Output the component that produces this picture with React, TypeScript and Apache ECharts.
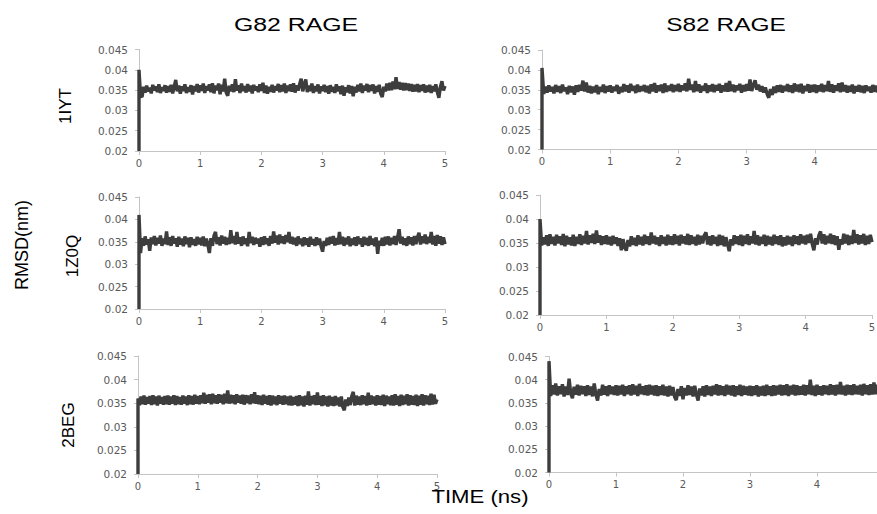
import React, { useEffect, useRef } from "react";
import * as echarts from "echarts";

// Sampling step of the trajectories (ns) and the starting RMSD at t = 0
const SAMPLE_STEP_NS = 0.025;
const START_RMSD = 0.02;

const columnTitles = ["G82 RAGE", "S82 RAGE"];
const rowLabels = ["1IYT", "1Z0Q", "2BEG"];
const yAxisTitle = "RMSD(nm)";
const xAxisTitle = "TIME (ns)";

const xTicks = { min: 0, max: 5, interval: 1 };
const yTicks = { min: 0.02, max: 0.045, interval: 0.005 };

// G82 RAGE / 1IYT (one row = 0.5 ns)
const g82_1IYT = [
  0.0400, 0.0336, 0.0333, 0.0358, 0.0344, 0.0361, 0.0347, 0.0356, 0.0342, 0.0363, 0.0349, 0.0359, 0.0345, 0.0364, 0.0343, 0.0357, 0.0348, 0.0362, 0.0344, 0.0360,
  0.0346, 0.0363, 0.0342, 0.0358, 0.0375, 0.0347, 0.0361, 0.0341, 0.0359, 0.0348, 0.0364, 0.0343, 0.0357, 0.0346, 0.0362, 0.0339, 0.0360, 0.0347, 0.0365, 0.0344,
  0.0362, 0.0348, 0.0366, 0.0343, 0.0360, 0.0349, 0.0364, 0.0345, 0.0367, 0.0342, 0.0361, 0.0350, 0.0366, 0.0340, 0.0363, 0.0347, 0.0378, 0.0344, 0.0336, 0.0361,
  0.0347, 0.0364, 0.0345, 0.0377, 0.0349, 0.0362, 0.0343, 0.0366, 0.0348, 0.0360, 0.0344, 0.0365, 0.0347, 0.0361, 0.0342, 0.0363, 0.0349, 0.0359, 0.0345, 0.0364,
  0.0348, 0.0368, 0.0343, 0.0361, 0.0341, 0.0358, 0.0346, 0.0363, 0.0344, 0.0360, 0.0349, 0.0365, 0.0345, 0.0362, 0.0347, 0.0366, 0.0343, 0.0361, 0.0348, 0.0364,
  0.0346, 0.0367, 0.0344, 0.0362, 0.0349, 0.0365, 0.0378, 0.0347, 0.0363, 0.0376, 0.0345, 0.0361, 0.0348, 0.0366, 0.0343, 0.0360, 0.0347, 0.0364, 0.0342, 0.0359,
  0.0348, 0.0363, 0.0345, 0.0360, 0.0341, 0.0362, 0.0346, 0.0358, 0.0343, 0.0364, 0.0347, 0.0359, 0.0340, 0.0361, 0.0336, 0.0357, 0.0345, 0.0362, 0.0342, 0.0360,
  0.0335, 0.0358, 0.0344, 0.0363, 0.0347, 0.0366, 0.0343, 0.0361, 0.0349, 0.0365, 0.0345, 0.0362, 0.0348, 0.0364, 0.0342, 0.0360, 0.0346, 0.0363, 0.0341, 0.0333,
  0.0358, 0.0347, 0.0366, 0.0349, 0.0368, 0.0350, 0.0371, 0.0352, 0.0382, 0.0353, 0.0370, 0.0351, 0.0368, 0.0349, 0.0367, 0.0350, 0.0366, 0.0348, 0.0365, 0.0346,
  0.0363, 0.0347, 0.0365, 0.0345, 0.0362, 0.0348, 0.0364, 0.0344, 0.0361, 0.0346, 0.0363, 0.0343, 0.0360, 0.0347, 0.0364, 0.0345, 0.0331, 0.0358, 0.0372, 0.0349,
  0.0360,
];

// S82 RAGE / 1IYT
const s82_1IYT = [
  0.0405, 0.0340, 0.0358, 0.0343, 0.0361, 0.0346, 0.0357, 0.0341, 0.0362, 0.0345, 0.0359, 0.0342, 0.0363, 0.0347, 0.0356, 0.0339, 0.0360, 0.0344, 0.0358, 0.0338,
  0.0361, 0.0345, 0.0362, 0.0348, 0.0373, 0.0346, 0.0368, 0.0343, 0.0360, 0.0341, 0.0358, 0.0344, 0.0362, 0.0339, 0.0357, 0.0345, 0.0363, 0.0342, 0.0359, 0.0346,
  0.0361, 0.0343, 0.0358, 0.0347, 0.0362, 0.0340, 0.0357, 0.0344, 0.0364, 0.0346, 0.0361, 0.0343, 0.0365, 0.0348, 0.0360, 0.0342, 0.0363, 0.0345, 0.0359, 0.0347,
  0.0362, 0.0344, 0.0360, 0.0341, 0.0364, 0.0346, 0.0367, 0.0343, 0.0361, 0.0347, 0.0363, 0.0342, 0.0366, 0.0345, 0.0360, 0.0348, 0.0364, 0.0344, 0.0362, 0.0347,
  0.0365, 0.0345, 0.0361, 0.0349, 0.0366, 0.0346, 0.0378, 0.0350, 0.0363, 0.0344, 0.0372, 0.0347, 0.0364, 0.0343, 0.0360, 0.0348, 0.0366, 0.0342, 0.0361, 0.0346,
  0.0364, 0.0344, 0.0362, 0.0348, 0.0365, 0.0343, 0.0361, 0.0346, 0.0367, 0.0345, 0.0372, 0.0347, 0.0363, 0.0344, 0.0361, 0.0349, 0.0365, 0.0343, 0.0362, 0.0346,
  0.0364, 0.0348, 0.0376, 0.0347, 0.0362, 0.0374, 0.0350, 0.0363, 0.0346, 0.0359, 0.0343, 0.0356, 0.0340, 0.0330, 0.0352, 0.0337, 0.0358, 0.0342, 0.0361, 0.0345,
  0.0362, 0.0343, 0.0360, 0.0347, 0.0364, 0.0345, 0.0361, 0.0342, 0.0366, 0.0346, 0.0363, 0.0344, 0.0365, 0.0341, 0.0360, 0.0347, 0.0364, 0.0343, 0.0362, 0.0345,
  0.0363, 0.0342, 0.0361, 0.0346, 0.0365, 0.0344, 0.0362, 0.0347, 0.0372, 0.0345, 0.0364, 0.0343, 0.0361, 0.0348, 0.0366, 0.0344, 0.0368, 0.0346, 0.0362, 0.0343,
  0.0360, 0.0345, 0.0363, 0.0341, 0.0359, 0.0346, 0.0362, 0.0344, 0.0360, 0.0342, 0.0361, 0.0347, 0.0358, 0.0343, 0.0362, 0.0345, 0.0360, 0.0344, 0.0361, 0.0346,
  0.0358,
];

// G82 RAGE / 1Z0Q
const g82_1Z0Q = [
  0.0410, 0.0325, 0.0358, 0.0341, 0.0362, 0.0344, 0.0356, 0.0330, 0.0360, 0.0345, 0.0363, 0.0342, 0.0359, 0.0346, 0.0364, 0.0341, 0.0357, 0.0345, 0.0373, 0.0343,
  0.0360, 0.0341, 0.0363, 0.0346, 0.0358, 0.0339, 0.0361, 0.0344, 0.0357, 0.0340, 0.0362, 0.0345, 0.0359, 0.0338, 0.0360, 0.0343, 0.0356, 0.0341, 0.0361, 0.0344,
  0.0359, 0.0342, 0.0362, 0.0340, 0.0357, 0.0344, 0.0325, 0.0358, 0.0341, 0.0363, 0.0372, 0.0345, 0.0360, 0.0342, 0.0364, 0.0346, 0.0361, 0.0343, 0.0359, 0.0345,
  0.0376, 0.0347, 0.0363, 0.0344, 0.0372, 0.0346, 0.0360, 0.0341, 0.0362, 0.0345, 0.0358, 0.0340, 0.0372, 0.0347, 0.0361, 0.0343, 0.0359, 0.0346, 0.0357, 0.0339,
  0.0360, 0.0343, 0.0362, 0.0345, 0.0358, 0.0341, 0.0363, 0.0346, 0.0373, 0.0348, 0.0364, 0.0344, 0.0366, 0.0347, 0.0362, 0.0345, 0.0365, 0.0349, 0.0372, 0.0346,
  0.0361, 0.0344, 0.0359, 0.0341, 0.0362, 0.0345, 0.0357, 0.0340, 0.0360, 0.0343, 0.0358, 0.0339, 0.0361, 0.0344, 0.0356, 0.0341, 0.0360, 0.0343, 0.0357, 0.0340,
  0.0328, 0.0352, 0.0341, 0.0359, 0.0343, 0.0361, 0.0346, 0.0363, 0.0342, 0.0358, 0.0344, 0.0372, 0.0345, 0.0361, 0.0341, 0.0359, 0.0344, 0.0362, 0.0340, 0.0357,
  0.0343, 0.0360, 0.0341, 0.0362, 0.0345, 0.0358, 0.0339, 0.0361, 0.0343, 0.0359, 0.0341, 0.0363, 0.0344, 0.0357, 0.0340, 0.0360, 0.0323, 0.0352, 0.0342, 0.0359,
  0.0341, 0.0361, 0.0344, 0.0362, 0.0342, 0.0359, 0.0345, 0.0363, 0.0343, 0.0360, 0.0378, 0.0346, 0.0361, 0.0343, 0.0358, 0.0341, 0.0362, 0.0345, 0.0360, 0.0342,
  0.0363, 0.0345, 0.0360, 0.0370, 0.0344, 0.0362, 0.0347, 0.0366, 0.0345, 0.0361, 0.0348, 0.0372, 0.0344, 0.0363, 0.0341, 0.0365, 0.0346, 0.0362, 0.0343, 0.0360,
  0.0345,
];

// S82 RAGE / 1Z0Q
const s82_1Z0Q = [
  0.0400, 0.0345, 0.0362, 0.0347, 0.0366, 0.0344, 0.0368, 0.0348, 0.0363, 0.0345, 0.0367, 0.0349, 0.0364, 0.0346, 0.0369, 0.0343, 0.0365, 0.0347, 0.0362, 0.0345,
  0.0367, 0.0344, 0.0363, 0.0348, 0.0368, 0.0346, 0.0365, 0.0349, 0.0375, 0.0347, 0.0366, 0.0350, 0.0369, 0.0348, 0.0376, 0.0351, 0.0366, 0.0346, 0.0364, 0.0348,
  0.0366, 0.0347, 0.0363, 0.0345, 0.0365, 0.0348, 0.0362, 0.0344, 0.0360, 0.0335, 0.0358, 0.0342, 0.0334, 0.0356, 0.0343, 0.0364, 0.0346, 0.0361, 0.0344, 0.0366,
  0.0347, 0.0363, 0.0345, 0.0367, 0.0348, 0.0364, 0.0346, 0.0372, 0.0349, 0.0365, 0.0347, 0.0362, 0.0344, 0.0366, 0.0348, 0.0363, 0.0345, 0.0367, 0.0347, 0.0364,
  0.0346, 0.0368, 0.0348, 0.0365, 0.0345, 0.0367, 0.0349, 0.0364, 0.0347, 0.0369, 0.0346, 0.0366, 0.0348, 0.0363, 0.0345, 0.0367, 0.0347, 0.0365, 0.0349, 0.0366,
  0.0372, 0.0347, 0.0364, 0.0345, 0.0366, 0.0348, 0.0363, 0.0344, 0.0367, 0.0346, 0.0365, 0.0343, 0.0362, 0.0347, 0.0333, 0.0358, 0.0345, 0.0366, 0.0348, 0.0364,
  0.0346, 0.0367, 0.0344, 0.0365, 0.0348, 0.0368, 0.0346, 0.0364, 0.0349, 0.0375, 0.0347, 0.0366, 0.0345, 0.0363, 0.0348, 0.0367, 0.0344, 0.0365, 0.0347, 0.0363,
  0.0345, 0.0367, 0.0348, 0.0364, 0.0346, 0.0366, 0.0343, 0.0362, 0.0345, 0.0365, 0.0347, 0.0363, 0.0344, 0.0366, 0.0348, 0.0364, 0.0346, 0.0368, 0.0349, 0.0365,
  0.0347, 0.0367, 0.0350, 0.0369, 0.0348, 0.0335, 0.0360, 0.0347, 0.0366, 0.0374, 0.0349, 0.0368, 0.0347, 0.0365, 0.0350, 0.0369, 0.0348, 0.0366, 0.0346, 0.0364,
  0.0336, 0.0358, 0.0347, 0.0369, 0.0349, 0.0367, 0.0346, 0.0365, 0.0348, 0.0377, 0.0350, 0.0368, 0.0347, 0.0366, 0.0349, 0.0369, 0.0346, 0.0365, 0.0348, 0.0367,
  0.0352,
];

// G82 RAGE / 2BEG
const g82_2BEG = [
  0.0360, 0.0346, 0.0364, 0.0348, 0.0366, 0.0347, 0.0363, 0.0349, 0.0365, 0.0346, 0.0367, 0.0348, 0.0364, 0.0345, 0.0366, 0.0349, 0.0363, 0.0347, 0.0365, 0.0348,
  0.0366, 0.0347, 0.0364, 0.0349, 0.0367, 0.0346, 0.0365, 0.0348, 0.0363, 0.0347, 0.0366, 0.0349, 0.0364, 0.0346, 0.0367, 0.0348, 0.0365, 0.0347, 0.0368, 0.0349,
  0.0365, 0.0348, 0.0367, 0.0350, 0.0372, 0.0349, 0.0368, 0.0351, 0.0369, 0.0348, 0.0370, 0.0350, 0.0367, 0.0349, 0.0369, 0.0351, 0.0368, 0.0348, 0.0370, 0.0350,
  0.0377, 0.0349, 0.0368, 0.0350, 0.0367, 0.0348, 0.0369, 0.0351, 0.0366, 0.0349, 0.0368, 0.0347, 0.0367, 0.0350, 0.0366, 0.0348, 0.0369, 0.0350, 0.0373, 0.0349,
  0.0367, 0.0348, 0.0366, 0.0346, 0.0368, 0.0349, 0.0365, 0.0347, 0.0367, 0.0345, 0.0366, 0.0348, 0.0364, 0.0346, 0.0367, 0.0349, 0.0365, 0.0347, 0.0366, 0.0348,
  0.0364, 0.0346, 0.0366, 0.0345, 0.0363, 0.0347, 0.0365, 0.0344, 0.0367, 0.0346, 0.0364, 0.0343, 0.0366, 0.0347, 0.0375, 0.0345, 0.0365, 0.0348, 0.0367, 0.0346,
  0.0373, 0.0347, 0.0365, 0.0344, 0.0367, 0.0346, 0.0364, 0.0343, 0.0366, 0.0345, 0.0363, 0.0344, 0.0365, 0.0346, 0.0362, 0.0343, 0.0364, 0.0342, 0.0335, 0.0358,
  0.0344, 0.0362, 0.0346, 0.0365, 0.0374, 0.0345, 0.0366, 0.0347, 0.0364, 0.0346, 0.0367, 0.0348, 0.0365, 0.0345, 0.0372, 0.0347, 0.0366, 0.0348, 0.0364, 0.0345,
  0.0367, 0.0347, 0.0365, 0.0346, 0.0368, 0.0344, 0.0366, 0.0348, 0.0364, 0.0346, 0.0367, 0.0345, 0.0369, 0.0347, 0.0365, 0.0344, 0.0368, 0.0346, 0.0366, 0.0348,
  0.0369, 0.0345, 0.0367, 0.0347, 0.0365, 0.0346, 0.0368, 0.0344, 0.0366, 0.0347, 0.0369, 0.0345, 0.0367, 0.0348, 0.0366, 0.0346, 0.0370, 0.0347, 0.0368, 0.0349,
  0.0358,
];

// S82 RAGE / 2BEG
const s82_2BEG = [
  0.0440, 0.0365, 0.0388, 0.0368, 0.0392, 0.0366, 0.0386, 0.0369, 0.0390, 0.0364, 0.0385, 0.0367, 0.0402, 0.0370, 0.0360, 0.0385, 0.0368, 0.0389, 0.0366, 0.0387,
  0.0369, 0.0386, 0.0365, 0.0388, 0.0367, 0.0385, 0.0364, 0.0392, 0.0368, 0.0355, 0.0380, 0.0366, 0.0389, 0.0368, 0.0386, 0.0365, 0.0388, 0.0369, 0.0385, 0.0367,
  0.0388, 0.0366, 0.0387, 0.0368, 0.0389, 0.0365, 0.0386, 0.0369, 0.0388, 0.0366, 0.0390, 0.0368, 0.0387, 0.0365, 0.0391, 0.0369, 0.0386, 0.0367, 0.0388, 0.0366,
  0.0389, 0.0368, 0.0387, 0.0366, 0.0388, 0.0365, 0.0386, 0.0367, 0.0389, 0.0366, 0.0385, 0.0364, 0.0387, 0.0366, 0.0384, 0.0363, 0.0356, 0.0380, 0.0365, 0.0386,
  0.0358, 0.0382, 0.0366, 0.0388, 0.0367, 0.0385, 0.0364, 0.0387, 0.0368, 0.0355, 0.0381, 0.0366, 0.0386, 0.0364, 0.0388, 0.0367, 0.0385, 0.0365, 0.0387, 0.0368,
  0.0390, 0.0366, 0.0388, 0.0367, 0.0386, 0.0365, 0.0389, 0.0368, 0.0387, 0.0366, 0.0388, 0.0364, 0.0386, 0.0367, 0.0389, 0.0365, 0.0387, 0.0368, 0.0385, 0.0366,
  0.0387, 0.0365, 0.0386, 0.0367, 0.0388, 0.0364, 0.0385, 0.0366, 0.0387, 0.0365, 0.0389, 0.0367, 0.0386, 0.0365, 0.0388, 0.0366, 0.0387, 0.0368, 0.0389, 0.0366,
  0.0388, 0.0367, 0.0390, 0.0365, 0.0387, 0.0368, 0.0389, 0.0366, 0.0388, 0.0367, 0.0386, 0.0368, 0.0389, 0.0366, 0.0388, 0.0369, 0.0400, 0.0367, 0.0387, 0.0365,
  0.0389, 0.0368, 0.0386, 0.0366, 0.0388, 0.0369, 0.0387, 0.0367, 0.0390, 0.0368, 0.0388, 0.0366, 0.0389, 0.0369, 0.0395, 0.0368, 0.0387, 0.0366, 0.0389, 0.0368,
  0.0388, 0.0367, 0.0390, 0.0369, 0.0387, 0.0368, 0.0389, 0.0366, 0.0391, 0.0369, 0.0388, 0.0367, 0.0390, 0.0368, 0.0394, 0.0369, 0.0389, 0.0367, 0.0390, 0.0368,
  0.0378,
];

const panelSeries = [g82_1IYT, s82_1IYT, g82_1Z0Q, s82_1Z0Q, g82_2BEG, s82_2BEG];

// Layout (pixels) of each panel's plotting area; showMaxLabel is false where the
// last tick label falls beyond the right edge of the figure.
const panelLayout = [
  { left: 139, top: 49.5, width: 306, height: 101.5, showMaxLabel: true },
  { left: 542, top: 50, width: 341, height: 99.5, showMaxLabel: false },
  { left: 139, top: 197, width: 306, height: 112, showMaxLabel: true },
  { left: 540, top: 195, width: 332, height: 120, showMaxLabel: true },
  { left: 138, top: 356, width: 299, height: 118, showMaxLabel: true },
  { left: 549, top: 356.5, width: 335, height: 116, showMaxLabel: false },
];

const LINE_COLOR = "#3d3d3d";
const AXIS_COLOR = "#c4c4c4";
const LABEL_COLOR = "#595959";
const TICK_FONT = "DejaVu Sans";
const TITLE_FONT = "Liberation Sans, Arial, sans-serif";

export default function App() {
  const ref = useRef<HTMLDivElement>(null);

  useEffect(() => {
    if (!ref.current) return;
    const chart = echarts.init(ref.current, undefined, { renderer: "svg" });

    const grids = panelLayout.map((g) => ({
      left: g.left,
      top: g.top,
      width: g.width,
      height: g.height,
      containLabel: false,
      outerBoundsMode: "none",
    }));
    const xAxes = panelLayout.map((g, i) => ({
      type: "value",
      gridIndex: i,
      min: xTicks.min,
      max: xTicks.max,
      interval: xTicks.interval,
      splitLine: { show: false },
      axisLine: { show: true, onZero: false, lineStyle: { color: AXIS_COLOR, width: 1 } },
      axisTick: { show: true, length: 4, lineStyle: { color: AXIS_COLOR } },
      axisLabel: {
        color: LABEL_COLOR,
        fontFamily: TICK_FONT,
        fontSize: 10,
        margin: 7,
        showMaxLabel: g.showMaxLabel,
      },
    }));
    const yAxes = panelLayout.map((_, i) => ({
      type: "value",
      gridIndex: i,
      min: yTicks.min,
      max: yTicks.max,
      interval: yTicks.interval,
      splitLine: { show: false },
      axisLine: { show: true, lineStyle: { color: AXIS_COLOR, width: 1 } },
      axisTick: { show: true, length: 4, lineStyle: { color: AXIS_COLOR } },
      axisLabel: {
        color: LABEL_COLOR,
        fontFamily: TICK_FONT,
        fontSize: 10.5,
        margin: 11,
        formatter: (v: number) => String(Number(v.toFixed(3))),
      },
    }));
    const series = panelSeries.map((vals, i) => ({
      type: "line",
      xAxisIndex: i,
      yAxisIndex: i,
      symbol: "none",
      clip: true,
      lineStyle: { color: LINE_COLOR, width: 3.4, join: "bevel" },
      data: [[0, START_RMSD], ...vals.map((v, k) => [k * SAMPLE_STEP_NS, v])],
    }));

    const text = (
      t: string,
      x: number,
      y: number,
      size: number,
      opts: { rotation?: number; scaleX?: number } = {}
    ) => ({
      type: "text",
      x,
      y,
      rotation: opts.rotation || 0,
      scaleX: opts.scaleX || 1,
      style: {
        text: t,
        fill: "#000",
        font: `${size}px ${TITLE_FONT}`,
        textAlign: "center",
        textVerticalAlign: "middle",
      },
    });

    const graphics = [
      text(columnTitles[0], 296, 25, 18, { scaleX: 1.38 }),
      text(columnTitles[1], 726, 25, 18, { scaleX: 1.36 }),
      text(rowLabels[0], 65, 106, 17, { rotation: Math.PI / 2 }),
      text(rowLabels[1], 72, 256, 17, { rotation: Math.PI / 2 }),
      text(rowLabels[2], 68, 425, 17, { rotation: Math.PI / 2 }),
      text(yAxisTitle, 22, 245, 18, { rotation: Math.PI / 2 }),
      text(xAxisTitle, 480, 497, 18, { scaleX: 1.23 }),
    ];

    chart.setOption({
      animation: false,
      backgroundColor: "#ffffff",
      grid: grids,
      xAxis: xAxes,
      yAxis: yAxes,
      series,
      graphic: { elements: graphics },
    });

    return () => chart.dispose();
  }, []);

  return (
    <div
      ref={ref}
      style={{ position: "absolute", left: 0, top: 0, width: 877, height: 514, overflow: "hidden" }}
    />
  );
}
